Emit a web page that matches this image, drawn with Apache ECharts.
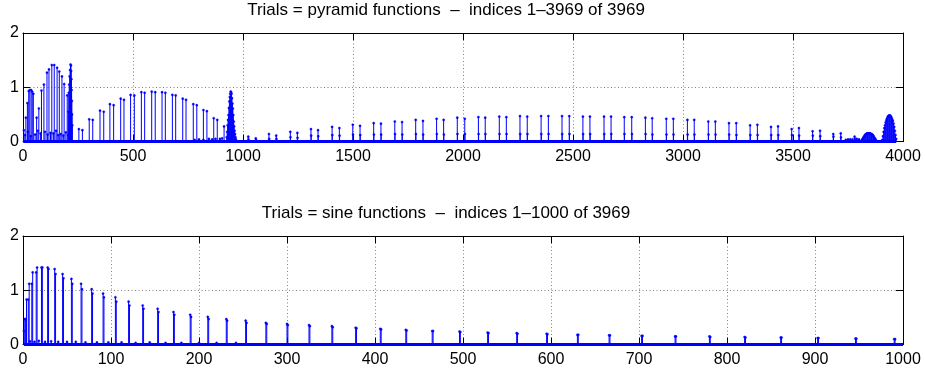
<!DOCTYPE html>
<html>
<head>
<meta charset="utf-8">
<script src="https://cdn.jsdelivr.net/npm/echarts@6/dist/echarts.min.js"></script>
<style>
  html, body { margin: 0; padding: 0; background: #fff; }
  #chart { width: 925px; height: 374px; }
</style>
</head>
<body>
<div id="chart"></div>
<script>
// ---------- Upper panel: pyramid trials (indices 1..3969) ----------
const pyrTicksX = [0, 500, 1000, 1500, 2000, 2500, 3000, 3500, 4000];
const pyrTicksY = [0, 1, 2];

// first pyramid group
const pyrAIdx = [4, 13, 20, 26, 31, 37, 42, 47, 62, 72, 84, 95, 109, 118, 131, 142, 155, 165, 177, 187, 201];
const pyrAVal = [0.21, 0.44, 0.71, 0.93, 0.95, 0.95, 0.92, 0.88, 0.44, 0.61, 0.94, 1.05, 1.27, 1.33, 1.41, 1.41, 1.36, 1.29, 1.20, 1.06, 0.85];
const pyrAShortIdx = [9, 22, 35, 55, 68, 80, 100, 112, 125, 138, 150, 160, 172, 183, 195, 205];
const pyrAShortVal = [0.12, 0.18, 0.10, 0.13, 0.20, 0.15, 0.18, 0.13, 0.16, 0.15, 0.20, 0.12, 0.14, 0.11, 0.17, 0.12];
const pyrClusterIdx = [206, 208, 210, 212, 214, 216, 218, 219, 220, 221, 222, 223, 224];
const pyrClusterVal = [0.55, 0.90, 1.05, 1.20, 1.32, 1.42, 1.40, 1.30, 1.15, 0.95, 0.75, 0.50, 0.30];

// second group: pairs rising and falling
const pyrBIdx = [254, 270, 301, 317, 350, 367, 395, 412, 444, 459, 489, 506, 538, 553, 585, 601, 632, 647, 679, 694, 726, 741, 774, 790, 820, 836, 867, 883, 914];
const pyrBVal = [0.23, 0.21, 0.41, 0.40, 0.57, 0.55, 0.69, 0.67, 0.79, 0.77, 0.86, 0.85, 0.91, 0.90, 0.92, 0.91, 0.91, 0.90, 0.86, 0.85, 0.79, 0.77, 0.69, 0.67, 0.58, 0.56, 0.43, 0.40, 0.28];
const pyrBLowIdx = [780, 800, 820, 845, 860, 875, 895, 905];
const pyrBLowVal = [0.03, 0.04, 0.03, 0.05, 0.04, 0.05, 0.05, 0.06];
const pyrBellIdx = [926, 928, 930, 932, 934, 936, 938, 940, 942, 944, 946, 948, 950, 952, 954, 956, 958, 960, 962, 964, 966, 968];
const pyrBellVal = [0.08, 0.18, 0.30, 0.40, 0.49, 0.62, 0.74, 0.82, 0.88, 0.92, 0.91, 0.88, 0.80, 0.70, 0.61, 0.49, 0.37, 0.28, 0.20, 0.14, 0.08, 0.04];

// third group: long run of pairs, each with a low companion point
const pyrCIdx = [1024, 1058, 1118, 1151, 1215, 1247, 1309, 1341, 1405, 1438, 1499, 1532, 1594, 1627, 1690, 1723, 1785, 1818, 1880, 1912, 1974, 2008, 2070, 2101, 2165, 2197, 2259, 2292, 2355, 2388, 2450, 2483, 2545, 2577, 2641, 2673, 2733, 2767, 2829, 2860, 2924, 2956, 3020, 3051, 3115, 3147, 3209, 3242, 3305, 3338, 3400, 3432, 3494, 3527, 3589, 3623, 3683, 3717, 3780];
const pyrCVal = [0.09, 0.06, 0.14, 0.11, 0.18, 0.16, 0.23, 0.21, 0.27, 0.25, 0.31, 0.29, 0.34, 0.33, 0.37, 0.36, 0.40, 0.38, 0.42, 0.40, 0.44, 0.42, 0.45, 0.44, 0.46, 0.45, 0.47, 0.46, 0.47, 0.47, 0.47, 0.47, 0.46, 0.46, 0.46, 0.46, 0.45, 0.45, 0.44, 0.43, 0.42, 0.42, 0.40, 0.40, 0.37, 0.37, 0.34, 0.34, 0.30, 0.31, 0.27, 0.28, 0.23, 0.25, 0.19, 0.20, 0.14, 0.15, 0.09];
const pyrCLowVal = [0.04, 0.03, 0.05, 0.05, 0.08, 0.07, 0.11, 0.10, 0.12, 0.11, 0.13, 0.12, 0.13, 0.13, 0.14, 0.13, 0.14, 0.13, 0.14, 0.13, 0.14, 0.14, 0.14, 0.14, 0.14, 0.14, 0.14, 0.14, 0.14, 0.14, 0.14, 0.14, 0.14, 0.14, 0.14, 0.14, 0.14, 0.14, 0.14, 0.13, 0.13, 0.13, 0.13, 0.13, 0.13, 0.13, 0.13, 0.12, 0.12, 0.12, 0.12, 0.12, 0.12, 0.11, 0.11, 0.10, 0.09, 0.08, 0.05];

// tail: low plateau and two dense bumps
const pyrTailIdx = [3740, 3750, 3760, 3770, 3790, 3800, 3812, 3815, 3818, 3821, 3824, 3827, 3830, 3833, 3836, 3839, 3842, 3845, 3848, 3851, 3854, 3857, 3860, 3863, 3866, 3869, 3872, 3875, 3878,
  3906, 3909, 3912, 3915, 3918, 3921, 3924, 3927, 3930, 3933, 3936, 3939, 3942, 3945, 3948, 3951, 3954, 3957, 3960, 3963, 3966, 3969];
const pyrTailVal = [0.03, 0.04, 0.04, 0.04, 0.05, 0.04, 0.02, 0.04, 0.06, 0.08, 0.10, 0.12, 0.13, 0.14, 0.15, 0.15, 0.15, 0.15, 0.15, 0.15, 0.14, 0.14, 0.13, 0.12, 0.10, 0.08, 0.06, 0.04, 0.02,
  0.03, 0.10, 0.18, 0.25, 0.30, 0.35, 0.39, 0.42, 0.45, 0.47, 0.48, 0.48, 0.48, 0.46, 0.44, 0.41, 0.38, 0.33, 0.27, 0.20, 0.12, 0.05];

// ---------- Lower panel: sine trials (indices 1..1000) ----------
const sineTicksX = [0, 100, 200, 300, 400, 500, 600, 700, 800, 900, 1000];
const sineTicksY = [0, 1, 2];
const sineIdx = [1, 3, 6, 10, 15, 21, 28, 36, 45, 55, 66, 78, 91, 105, 120, 136, 153, 171, 190, 210, 231, 253, 276, 300, 325, 351, 378, 406, 435, 465, 496, 528, 561, 595, 630, 666, 703, 741, 780, 820, 861, 903, 946, 990];
const sineHead = [0.25, 0.47, 0.83, 1.12, 1.33, 1.42, 1.42, 1.39, 1.30, 1.21, 1.12, 1.02, 0.94, 0.87, 0.79, 0.72, 0.66, 0.60, 0.55, 0.51, 0.47, 0.44, 0.40, 0.38, 0.36, 0.34, 0.31, 0.29, 0.27, 0.25, 0.24, 0.22, 0.21, 0.20, 0.18, 0.17, 0.16, 0.15, 0.15, 0.14, 0.13, 0.12, 0.11, 0.10];
const sineNext = [0.47, 0.83, 1.12, 1.33, 1.42, 1.42, 1.39, 1.30, 1.22, 1.12, 1.02, 0.94, 0.87, 0.79, 0.72, 0.66, 0.60, 0.55, 0.51, 0.47, 0.44, 0.40, 0.38, 0.36, 0.34, 0.32, 0.30, 0.28, 0.26, 0.25, 0.23, 0.21, 0.20, 0.19, 0.18, 0.17, 0.16, 0.15, 0.14, 0.13, 0.13, 0.12, 0.11, 0.10];
const sineLowIdx = [8, 13, 18, 25, 32, 40, 50, 60, 71, 84, 97, 112, 128, 144, 162, 180, 200, 220, 242];
const sineLowVal = [0.06, 0.05, 0.07, 0.05, 0.06, 0.05, 0.05, 0.05, 0.04, 0.04, 0.04, 0.04, 0.03, 0.04, 0.03, 0.03, 0.03, 0.03, 0.03];

const pyrCount = 3969;
const sineCount = 1000;

// ---------- helpers ----------
const BLUE = '#0000ff';
const FONT = '"Liberation Sans", Arial, Helvetica, sans-serif';
const zip = (idx, val, offset = 0) => idx.map((x, i) => [x + offset, val[i]]);

const pyrData = [].concat(
  zip(pyrAIdx, pyrAVal), zip(pyrAShortIdx, pyrAShortVal), zip(pyrClusterIdx, pyrClusterVal),
  zip(pyrBIdx, pyrBVal), zip(pyrBLowIdx, pyrBLowVal), zip(pyrBellIdx, pyrBellVal),
  zip(pyrCIdx, pyrCVal), zip(pyrCIdx, pyrCLowVal, 1), zip(pyrTailIdx, pyrTailVal)
);
const sineData = [].concat(
  zip(sineIdx, sineHead), zip(sineIdx, sineNext, 1), zip(sineLowIdx, sineLowVal)
);

// stem: vertical line from the zero baseline plus a small dot at the value
function renderStem(params, api) {
  const x = api.value(0), y = api.value(1);
  const base = api.coord([x, 0]);
  const tip = api.coord([x, y]);
  return {
    type: 'group',
    children: [
      { type: 'line', shape: { x1: base[0], y1: base[1], x2: tip[0], y2: tip[1] },
        style: { stroke: BLUE, lineWidth: 1 } },
      { type: 'circle', shape: { cx: tip[0], cy: tip[1], r: 1.1 },
        style: { fill: BLUE, stroke: BLUE, lineWidth: 0.4 } }
    ]
  };
}

const dotted = { color: '#808080', type: [1, 2.5], width: 1 };
const axisLineStyle = { show: true, onZero: false, lineStyle: { color: '#000', width: 1 } };
const tickStyle = { show: true, inside: true, length: 7, lineStyle: { color: '#000', width: 1 } };
const labelStyle = { color: '#000', fontSize: 16, fontFamily: FONT, formatter: v => String(v) };

function xAxes(gridIndex, ticks) {
  const common = {
    type: 'value', gridIndex,
    min: ticks[0], max: ticks[ticks.length - 1], interval: ticks[1] - ticks[0],
    axisLine: axisLineStyle, axisTick: tickStyle
  };
  return [
    Object.assign({}, common, { position: 'bottom',
      axisLabel: Object.assign({ margin: 7 }, labelStyle),
      splitLine: { show: true, lineStyle: dotted } }),
    Object.assign({}, common, { position: 'top',
      axisLabel: { show: false }, splitLine: { show: false } })
  ];
}
function yAxes(gridIndex, ticks) {
  const common = {
    type: 'value', gridIndex,
    min: ticks[0], max: ticks[ticks.length - 1], interval: ticks[1] - ticks[0],
    axisLine: axisLineStyle, axisTick: tickStyle
  };
  return [
    Object.assign({}, common, { position: 'left',
      axisLabel: Object.assign({ margin: 4 }, labelStyle),
      splitLine: { show: true, lineStyle: dotted } }),
    Object.assign({}, common, { position: 'right',
      axisLabel: { show: false }, splitLine: { show: false } })
  ];
}

const titleStyle = { color: '#000', fontSize: 17, fontWeight: 'normal', fontFamily: FONT };

const option = {
  animation: false,
  backgroundColor: '#fff',
  title: [
    { text: 'Trials = pyramid functions  \u2013  indices 1\u2013' + pyrCount + ' of ' + pyrCount,
      left: 446, top: 2, textAlign: 'center', padding: 0, textStyle: titleStyle },
    { text: 'Trials = sine functions  \u2013  indices 1\u2013' + sineCount + ' of ' + pyrCount,
      left: 446, top: 205, textAlign: 'center', padding: 0, textStyle: titleStyle }
  ],
  grid: [
    { left: 23, top: 33, width: 880, height: 108.6 },
    { left: 23, top: 236, width: 880, height: 108.6 }
  ],
  xAxis: [].concat(xAxes(0, pyrTicksX), xAxes(1, sineTicksX)),
  yAxis: [].concat(yAxes(0, pyrTicksY), yAxes(1, sineTicksY)),
  series: [
    { type: 'line', xAxisIndex: 0, yAxisIndex: 0, data: [[1, 0], [pyrCount, 0]],
      symbol: 'none', lineStyle: { color: BLUE, width: 3 }, z: 4, silent: true },
    { type: 'custom', xAxisIndex: 0, yAxisIndex: 0, renderItem: renderStem,
      data: pyrData, encode: { x: 0, y: 1 }, z: 3, silent: true },
    { type: 'line', xAxisIndex: 2, yAxisIndex: 2, data: [[1, 0], [sineCount, 0]],
      symbol: 'none', lineStyle: { color: BLUE, width: 3 }, z: 4, silent: true },
    { type: 'custom', xAxisIndex: 2, yAxisIndex: 2, renderItem: renderStem,
      data: sineData, encode: { x: 0, y: 1 }, z: 3, silent: true }
  ]
};

const chart = echarts.init(document.getElementById('chart'), null, { renderer: 'canvas' });
chart.setOption(option);
</script>
</body>
</html>
